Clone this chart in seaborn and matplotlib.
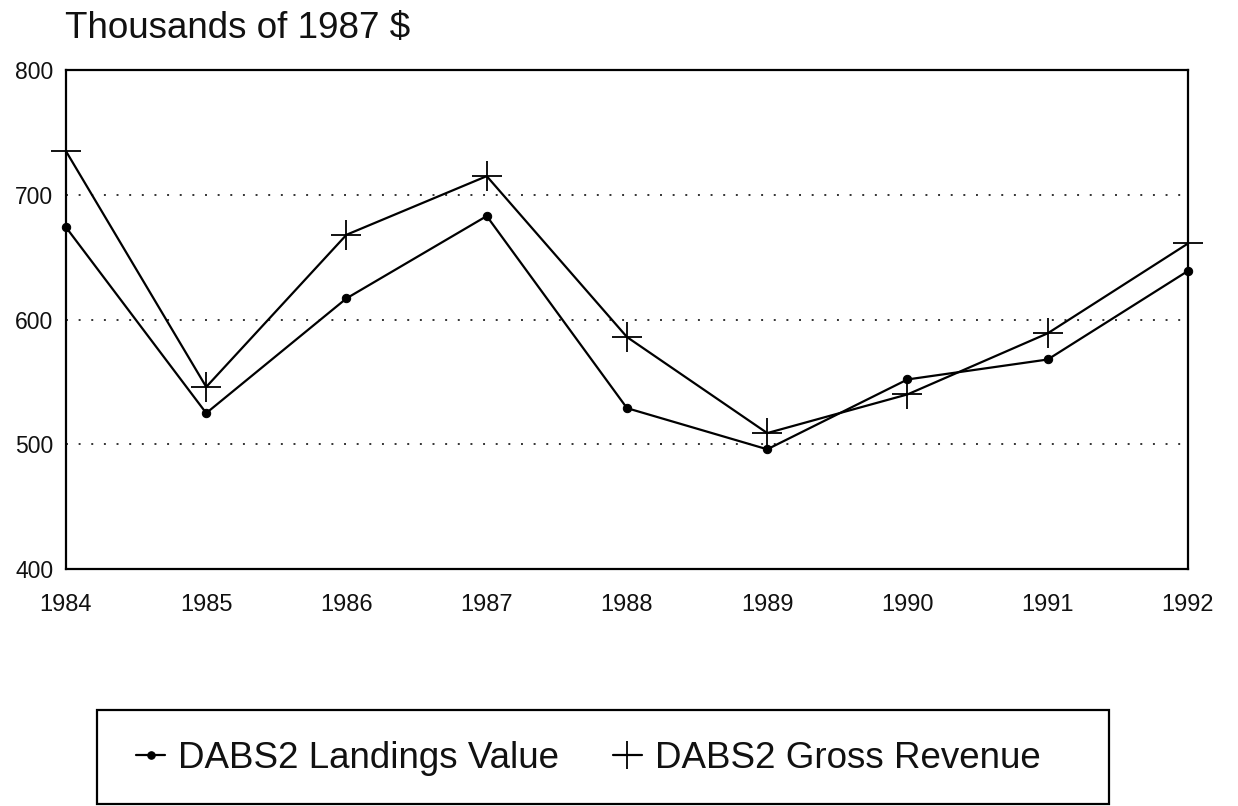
import matplotlib
matplotlib.use("Agg")
import matplotlib.pyplot as plt
from matplotlib.patches import Rectangle
import pandas as pd
import seaborn as sns

# =====================================================
# Data
# =====================================================

years = [1984, 1985, 1986, 1987, 1988, 1989, 1990, 1991, 1992]
landings_value = [674, 525, 617, 683, 529, 496, 552, 568, 639]
gross_revenue = [735, 546, 668, 715, 586, 509, 540, 589, 661]

y_ticks = [400, 500, 600, 700, 800]
grid_levels = [500, 600, 700]

df = pd.DataFrame({
    "Year": years,
    "DABS2 Landings Value": landings_value,
    "DABS2 Gross Revenue": gross_revenue,
})

# =====================================================
# Figure
# =====================================================

sns.set_style("white")
plt.rcParams["font.family"] = ["Liberation Sans", "DejaVu Sans"]

fig = plt.figure(figsize=(12.38, 8.06), dpi=100)
ax = fig.add_axes([0.0533, 0.294, 0.9063, 0.619])

for lvl in grid_levels:
    ax.axhline(lvl, color="#333333", linestyle=(0, (1, 5.5)), linewidth=1.4, zorder=1)

sns.lineplot(data=df, x="Year", y="DABS2 Landings Value", ax=ax,
             color="black", linewidth=1.6, marker="o", markersize=6,
             markeredgecolor="black", label="DABS2 Landings Value", zorder=3,
             clip_on=False)
sns.lineplot(data=df, x="Year", y="DABS2 Gross Revenue", ax=ax,
             color="black", linewidth=1.6, marker="+", markersize=22,
             markeredgewidth=1.3, markeredgecolor="black",
             label="DABS2 Gross Revenue", zorder=3, clip_on=False)

ax.set_xlim(years[0], years[-1])
ax.set_ylim(y_ticks[0], y_ticks[-1])
ax.set_xticks(years)
ax.set_yticks(y_ticks)
ax.tick_params(axis="x", length=0, pad=18, labelsize=17, labelcolor="#111111")
ax.tick_params(axis="y", length=0, pad=9, labelsize=16.5, labelcolor="#111111")
ax.set_xlabel("")
ax.set_ylabel("")

for side in ["left", "right", "top", "bottom"]:
    ax.spines[side].set_visible(True)
    ax.spines[side].set_color("black")
    ax.spines[side].set_linewidth(1.6)

fig.text(0.0525, 0.965, "Thousands of 1987 $", fontsize=26.5,
         ha="left", va="center", color="#111111")

# Legend with a wide box below the plot
handles, labels = ax.get_legend_handles_labels()
ax.get_legend().remove()
leg = fig.legend(handles, labels, loc="center left", bbox_to_anchor=(0.083, 0.0585),
                 ncol=2, frameon=False, fontsize=26.5, handlelength=0.8,
                 handletextpad=0.35, columnspacing=1.45, markerscale=0.9)
for t in leg.get_texts():
    t.set_color("#111111")
fig.patches.append(Rectangle((0.0785, 0.002), 0.8175, 0.117,
                             transform=fig.transFigure, fill=False,
                             edgecolor="black", linewidth=1.6))

plt.savefig("out.png", dpi=100, facecolor="white")
plt.close()
